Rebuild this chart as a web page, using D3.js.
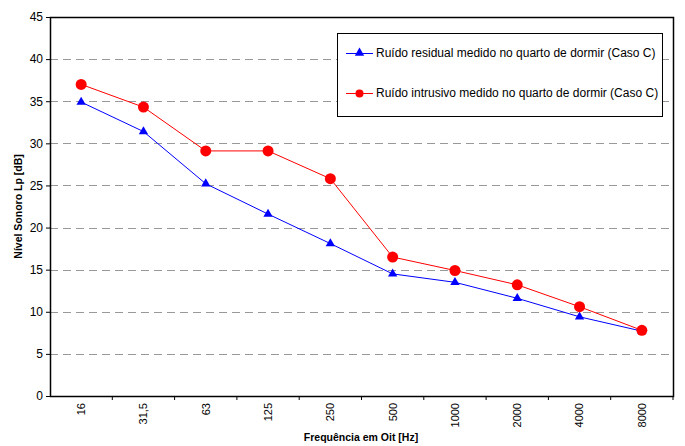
<!DOCTYPE html>
<html>
<head>
<meta charset="utf-8">
<script src="https://cdn.jsdelivr.net/npm/d3@7.9.0/dist/d3.min.js"></script>
<style>
  body { margin: 0; background: #fff; }
  svg, svg text { font-family: "Liberation Sans", Arimo, sans-serif; }
</style>
</head>
<body>
<div id="chart"></div>
<script>
const freqs = ['16', '31,5', '63', '125', '250', '500', '1000', '2000', '4000', '8000'];
const residual  = [34.9, 31.4, 25.2, 21.6, 18.1, 14.5, 13.5, 11.6, 9.4, 7.7];
const intrusive = [37.0, 34.3, 29.1, 29.1, 25.8, 16.5, 14.9, 13.2, 10.6, 7.8];
const yTicks = [0, 5, 10, 15, 20, 25, 30, 35, 40, 45];
const seriesNames = [
  'Ruído residual medido no quarto de dormir (Caso C)',
  'Ruído intrusivo medido no quarto de dormir (Caso C)'
];

const width = 685, height = 446;
const margin = {top: 17, right: 12, bottom: 50, left: 50};
const font = '"Liberation Sans", Arimo, sans-serif';

const svg = d3.select('#chart')
  .append('svg')
  .attr('width', width)
  .attr('height', height);

// scales
const x = d3.scaleBand()
  .domain(freqs)
  .range([margin.left, width - margin.right]);
const y = d3.scaleLinear()
  .domain([0, 45])
  .range([height - margin.bottom, margin.top]);

// grid lines
svg.append('g')
  .selectAll('line')
  .data(yTicks.filter(d => d > 0 && d < 45))
  .join('line')
    .attr('x1', margin.left)
    .attr('x2', width - margin.right)
    .attr('y1', d => Math.round(y(d)) + 0.5)
    .attr('y2', d => Math.round(y(d)) + 0.5)
    .attr('stroke', '#999')
    .attr('stroke-dasharray', '8,5');

// axes
const yAxis = svg.append('g')
  .attr('transform', `translate(${margin.left},0)`)
  .call(d3.axisLeft(y).tickValues(yTicks).tickSize(4).tickPadding(3).tickSizeOuter(0));
yAxis.select('.domain').remove();
yAxis.selectAll('text').attr('font-size', 12).attr('fill', '#000')
  .attr('font-family', font);
yAxis.selectAll('line').attr('stroke', '#000');

const xAxis = svg.append('g')
  .attr('transform', `translate(0,${height - margin.bottom})`)
  .call(d3.axisBottom(x).tickSize(0).tickFormat(d => d));
xAxis.select('.domain').remove();
xAxis.selectAll('text')
  .attr('font-size', 11)
  .attr('fill', '#000')
  .attr('font-family', font)
  .attr('text-anchor', 'end')
  .attr('dy', '0.35em')
  .attr('transform', 'translate(0,7) rotate(-90)')
  .attr('y', 0)
  .attr('x', 0);

// category boundary ticks
svg.append('g')
  .selectAll('line')
  .data(freqs.slice(1).concat(['__end']))
  .join('line')
    .attr('x1', d => d === '__end' ? x.range()[1] : x(d))
    .attr('x2', d => d === '__end' ? x.range()[1] : x(d))
    .attr('y1', height - margin.bottom)
    .attr('y2', height - margin.bottom + 4)
    .attr('stroke', '#000');

// frame
svg.append('rect')
  .attr('x', margin.left + 0.5)
  .attr('y', margin.top + 0.5)
  .attr('width', width - margin.left - margin.right)
  .attr('height', height - margin.top - margin.bottom)
  .attr('fill', 'none')
  .attr('stroke', '#000')
  .attr('stroke-width', 1.5);

// lines
const cx = d => x(d) + x.bandwidth() / 2;
const line = d3.line()
  .x((d, i) => cx(freqs[i]))
  .y(d => y(d));

svg.append('path')
  .datum(residual)
  .attr('d', line)
  .attr('fill', 'none')
  .attr('stroke', '#0000ff')
  .attr('stroke-width', 1);

svg.append('path')
  .datum(intrusive)
  .attr('d', line)
  .attr('fill', 'none')
  .attr('stroke', '#ff0000')
  .attr('stroke-width', 1);

const tri = d3.symbol().type(d3.symbolTriangle).size(38);

svg.append('g')
  .selectAll('path')
  .data(residual)
  .join('path')
    .attr('d', tri)
    .attr('transform', (d, i) => `translate(${cx(freqs[i])},${y(d)})`)
    .attr('fill', '#0000ff');

svg.append('g')
  .selectAll('circle')
  .data(intrusive)
  .join('circle')
    .attr('cx', (d, i) => cx(freqs[i]))
    .attr('cy', d => y(d))
    .attr('r', 5.5)
    .attr('fill', '#ff0000');

// legend
const lg = svg.append('g');
lg.append('rect')
  .attr('x', 337.5).attr('y', 33.5)
  .attr('width', 325).attr('height', 83)
  .attr('fill', '#fff').attr('stroke', '#000');

const rows = [
  {name: seriesNames[0], color: '#0000ff', mark: 'tri', y: 53},
  {name: seriesNames[1], color: '#ff0000', mark: 'circle', y: 93}
];
rows.forEach(r => {
  lg.append('line')
    .attr('x1', 346).attr('x2', 373)
    .attr('y1', r.y + 0.5).attr('y2', r.y + 0.5)
    .attr('stroke', r.color);
  if (r.mark === 'tri') {
    lg.append('path').attr('d', tri)
      .attr('transform', `translate(359.5,${r.y})`)
      .attr('fill', r.color);
  } else {
    lg.append('circle').attr('cx', 359.5).attr('cy', r.y + 0.5).attr('r', 4)
      .attr('fill', r.color);
  }
  lg.append('text')
    .attr('x', 376).attr('y', r.y).attr('dy', '0.35em')
    .attr('font-size', 12)
    .attr('font-family', font)
    .text(r.name);
});

// axis titles
svg.append('text')
  .attr('transform', `translate(18,${(margin.top + height - margin.bottom) / 2}) rotate(-90)`)
  .attr('text-anchor', 'middle')
  .attr('dy', '0.35em')
  .attr('font-size', 10.5)
  .attr('font-weight', 'bold')
  .attr('font-family', font)
  .text('Nível Sonoro Lp [dB]');

svg.append('text')
  .attr('x', 361)
  .attr('y', 437)
  .attr('dy', '0.35em')
  .attr('text-anchor', 'middle')
  .attr('font-size', 10.5)
  .attr('font-weight', 'bold')
  .attr('font-family', font)
  .text('Frequência em Oit [Hz]');
</script>
</body>
</html>
